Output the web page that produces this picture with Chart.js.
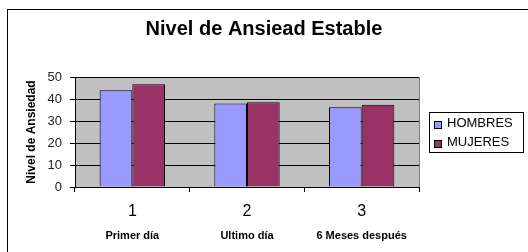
<!DOCTYPE html>
<html>
<head>
<meta charset="utf-8">
<script src="https://cdn.jsdelivr.net/npm/chart.js@4"></script>
<style>
  html, body { margin: 0; padding: 0; background: #fff; }
  canvas { display: block; }
</style>
</head>
<body>
<canvas id="chart" width="528" height="252"></canvas>
<script>
// data
var chartTitle = 'Nivel de Ansiead Estable';
var categories = ['1', '2', '3'];
var subLabels = ['Primer día', 'Ultimo día', '6 Meses después'];
var hombres = [44, 38, 36.2];
var mujeres = [46.7, 38.5, 37.4];
var seriesNames = ['HOMBRES', 'MUJERES'];
var seriesColors = ['#9999ff', '#993366'];
var yMin = 0, yMax = 50, yStep = 10;

var FONT = "'Liberation Sans', Arial, sans-serif";

// white page, grey plot area, outer frame, title, plot border and the boxed legend
var excelLook = {
  id: 'excelLook',
  beforeDraw: function(chart){
    var ctx = chart.ctx, a = chart.chartArea;
    ctx.save();
    ctx.fillStyle = '#fff';
    ctx.fillRect(0, 0, chart.width, chart.height);
    ctx.fillStyle = '#c0c0c0';
    ctx.fillRect(a.left, a.top, a.right - a.left, a.bottom - a.top);
    ctx.strokeStyle = '#000';
    ctx.lineWidth = 1;
    ctx.strokeRect(7.5, 9.5, chart.width, chart.height);
    ctx.restore();
  },
  afterDraw: function(chart){
    var ctx = chart.ctx, a = chart.chartArea;
    ctx.save();
    ctx.strokeStyle = '#808080';
    ctx.lineWidth = 1;
    ctx.beginPath();
    ctx.moveTo(Math.round(a.right) + 0.5, a.top);
    ctx.lineTo(Math.round(a.right) + 0.5, a.bottom);
    ctx.stroke();

    // title, centred on the whole frame
    ctx.fillStyle = '#000';
    ctx.font = 'bold 20px ' + FONT;
    ctx.textAlign = 'center';
    ctx.textBaseline = 'alphabetic';
    ctx.fillText(chartTitle, 264, 35);

    // legend
    ctx.strokeStyle = '#000';
    ctx.strokeRect(429.5, 112.5, 94, 40);
    ctx.font = '13px ' + FONT;
    ctx.textAlign = 'left';
    chart.data.datasets.forEach(function(ds, i){
      var base = 127 + i * 19;
      ctx.fillStyle = ds.backgroundColor;
      ctx.fillRect(434, base - 6, 8, 8);
      ctx.strokeRect(434.5, base - 5.5, 7, 7);
      ctx.fillStyle = '#000';
      ctx.fillText(ds.label, 447, base);
    });
    ctx.restore();
  }
};

new Chart(document.getElementById('chart'), {
  type: 'bar',
  data: {
    labels: categories,
    datasets: [
      { label: seriesNames[0], data: hombres, backgroundColor: seriesColors[0], borderColor: '#000', borderWidth: 1 },
      { label: seriesNames[1], data: mujeres, backgroundColor: seriesColors[1], borderColor: '#000', borderWidth: 1 }
    ]
  },
  options: {
    responsive: false,
    animation: false,
    events: [],
    categoryPercentage: 0.57,
    barPercentage: 1.0,
    layout: { padding: { left: 0, right: 109, top: 77, bottom: 0 } },
    plugins: {
      legend: { display: false },
      tooltip: { enabled: false },
      title: { display: false }
    },
    scales: {
      x: {
        type: 'category',
        offset: true,
        grid: { display: true, drawOnChartArea: false, drawTicks: true, tickLength: 5, color: '#000', offset: true },
        border: { display: true, color: '#000' },
        ticks: { color: '#000', padding: 10, font: { family: FONT, size: 16 } },
        afterFit: function(s){ s.height = 38; }
      },
      x2: {
        type: 'category',
        axis: 'x',
        position: 'bottom',
        labels: subLabels,
        offset: true,
        grid: { display: false, drawTicks: false },
        border: { display: false },
        ticks: { color: '#000', padding: 4, font: { family: FONT, size: 11, weight: 'bold' } },
        afterFit: function(s){ s.height = 27; }
      },
      y: {
        min: yMin,
        max: yMax,
        grid: { color: '#000', tickLength: 5, drawTicks: true },
        border: { display: true, color: '#000' },
        ticks: { stepSize: yStep, color: '#222', padding: 8, font: { family: FONT, size: 13 } },
        title: {
          display: true,
          text: 'Nivel de Ansiedad',
          color: '#000',
          font: { family: FONT, size: 12, weight: 'bold' },
          padding: { top: 24, bottom: 0 }
        },
        afterFit: function(s){ s.width = 75; }
      }
    }
  },
  plugins: [excelLook]
});
</script>
</body>
</html>
